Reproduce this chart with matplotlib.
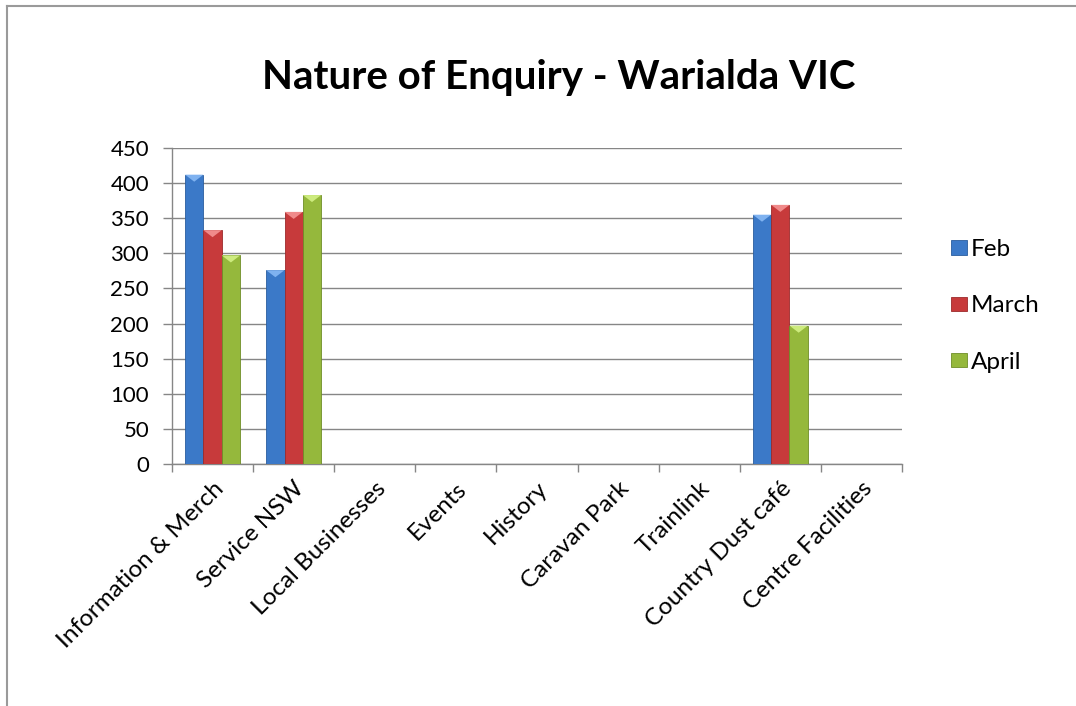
import numpy as np
import matplotlib.pyplot as plt
from matplotlib.lines import Line2D

plt.rcParams['font.family'] = ['Lato', 'DejaVu Sans']

categories = ['Information & Merch', 'Service NSW', 'Local Businesses', 'Events',
              'History', 'Caravan Park', 'Trainlink', 'Country Dust café',
              'Centre Facilities']
feb = [412, 276, 0, 0, 0, 0, 0, 355, 0]
march = [333, 359, 0, 0, 0, 0, 0, 369, 0]
april = [297, 383, 0, 0, 0, 0, 0, 197, 0]
series_names = ['Feb', 'March', 'April']
colors = ['#3B79C8', '#C73A3B', '#95B83C']
edge_colors = ['#2A5D9E', '#9C2A2B', '#6F8E27']
cap_colors = ['#7FB2F0', '#F08A8A', '#CDEB7E']

fig = plt.figure(figsize=(10.76, 7.06), dpi=100)
ax = fig.add_axes([172 / 1076, 1 - 464 / 706, 730 / 1076, 316 / 706])

x = np.arange(len(categories))
w = 0.226
for i, (vals, name) in enumerate(zip([feb, march, april], series_names)):
    pos = x + (i - 1) * w
    ax.bar(pos, vals, w, color=colors[i], edgecolor=edge_colors[i], linewidth=0.6,
           label=name, zorder=3)
    # light cap on top of each bar, like the original bevel
    for p, v in zip(pos, vals):
        if v > 0:
            ax.fill([p - w / 2, p + w / 2, p], [v, v, v - 10], color=cap_colors[i],
                    zorder=4, linewidth=0)

ax.set_xlim(-0.5, len(categories) - 0.5)
ax.set_ylim(0, 450)
ax.set_yticks(np.arange(0, 451, 50))
ax.yaxis.grid(True, color='#868686', linewidth=1.0, zorder=0)
ax.set_axisbelow(True)

ax.set_xticks(x)
ax.set_xticklabels(categories, rotation=45, ha='right', rotation_mode='anchor',
                   fontsize=17.5)
ax.set_xticks(np.arange(-0.5, len(categories)), minor=True)
ax.tick_params(axis='x', which='major', length=0, pad=10)
ax.tick_params(axis='x', which='minor', length=6, color='#868686', width=1)
ax.tick_params(axis='y', length=6.5, color='#868686', width=1, labelsize=16, pad=10)

for s in ['top', 'right']:
    ax.spines[s].set_visible(False)
for s in ['left', 'bottom']:
    ax.spines[s].set_color('#868686')
    ax.spines[s].set_linewidth(1.0)

fig.text(559 / 1076, 1 - 78 / 706, 'Nature of Enquiry - Warialda VIC', ha='center',
         va='center', fontsize=29, fontweight='bold')

leg = fig.legend(loc='center left', bbox_to_anchor=(951 / 1076, 1 - 306 / 706),
                 frameon=False, fontsize=17.5, handlelength=0.65, handleheight=0.55,
                 handletextpad=0.15, labelspacing=1.45, borderpad=0, borderaxespad=0)

# partial frame of the cropped chart area
fig.add_artist(Line2D([7 / 1076, 7 / 1076], [0, 1 - 6 / 706], color='#9A9A9A', lw=1.5))
fig.add_artist(Line2D([7 / 1076, 1], [1 - 6 / 706, 1 - 6 / 706], color='#9A9A9A', lw=1.5))

fig.savefig('out.png', dpi=100)
